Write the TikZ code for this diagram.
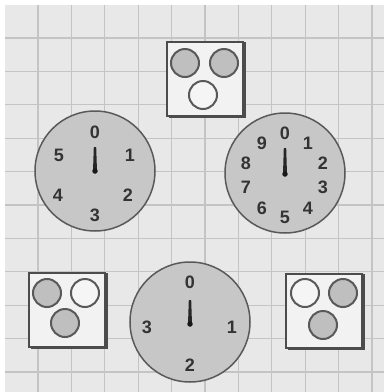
\documentclass[tikz,border=0pt]{standalone}
\usepackage{fontspec}
\setmainfont{Liberation Sans}
\begin{document}
\begin{tikzpicture}[x=1pt,y=-1pt,
  dialface/.style={circle,draw=black!65,line width=1.5pt,fill=black!22,minimum size=120pt,inner sep=0pt},
  digit/.style={font=\fontsize{18}{18}\selectfont\bfseries,text=black!80,inner sep=0pt},
  lamp/.style={circle,draw=black!65,line width=2pt,minimum size=28pt,inner sep=0pt},
  lampon/.style={lamp,fill=black!25},
  lampoff/.style={lamp,fill=black!4},
  panel/.style={draw=black!70,line width=1.6pt,fill=black!5,minimum width=76pt,minimum height=74pt,inner sep=0pt},
  shade/.style={draw=black!70,line width=2.2pt},
  gridline/.style={draw=black!23,line width=1.1pt},
  needle/.style={fill=black!85},
  pivot/.style={circle,fill=black!90,minimum size=5.5pt,inner sep=0pt}]
\useasboundingbox (0,0) rectangle (384,392);
\fill[white] (0,0) rectangle (384,392);
\fill[black!9] (5,5) rectangle (384,392);
\foreach \i in {0,...,10} {
  \draw[gridline] ({38+33.4*\i},5) -- ({38+33.4*\i},392);
  \draw[gridline] (5,{38+33.4*\i}) -- (384,{38+33.4*\i});
}
% top panel
\node[panel] (pt) at (205,79) {};
\draw[shade] (pt.north east) ++(1,1) -- ++(0,75) -- ++(-76,0);
\node[lampon] (pt1) at (185,63) {};
\node[lampon] (pt2) at (224,63) {};
\node[lampoff] (pt3) at (203,95) {};
% bottom-left panel
\node[panel] (pl) at (67,310) {};
\draw[shade] (pl.north east) ++(1,1) -- ++(0,75) -- ++(-76,0);
\node[lampon] (pl1) at (47,293) {};
\node[lampoff] (pl2) at (85,293) {};
\node[lampon] (pl3) at (65,323) {};
% bottom-right panel
\node[panel] (pr) at (324,311) {};
\draw[shade] (pr.north east) ++(1,1) -- ++(0,75) -- ++(-76,0);
\node[lampoff] (pr1) at (305,293) {};
\node[lampon] (pr2) at (343,293) {};
\node[lampon] (pr3) at (323,325) {};
% left dial
\node[dialface] (dl) at (95,171) {};
\fill[needle] (93.8,147) -- (96.2,147) -- (97,171) -- (93,171) -- cycle;
\node[pivot] (dlp) at (95,171) {};
\node[digit] (dl0) at (95,132) {0};
\node[digit] (dl1) at (130,155) {1};
\node[digit] (dl2) at (128,195) {2};
\node[digit] (dl3) at (95,215) {3};
\node[digit] (dl4) at (58,195) {4};
\node[digit] (dl5) at (59,155) {5};
% right dial
\node[dialface] (dr) at (285,173) {};
\fill[needle] (283.8,148) -- (286.2,148) -- (287,174) -- (283,174) -- cycle;
\node[pivot] (drp) at (285,174) {};
\node[digit] (dr0) at (285,133) {0};
\node[digit] (dr1) at (308,143) {1};
\node[digit] (dr2) at (323,163) {2};
\node[digit] (dr3) at (323,187) {3};
\node[digit] (dr4) at (308,208) {4};
\node[digit] (dr5) at (285,217) {5};
\node[digit] (dr6) at (262,208) {6};
\node[digit] (dr7) at (246,187) {7};
\node[digit] (dr8) at (246,163) {8};
\node[digit] (dr9) at (262,143) {9};
% bottom dial
\node[dialface] (db) at (190,322) {};
\fill[needle] (188.8,300) -- (191.2,300) -- (192,324) -- (188,324) -- cycle;
\node[pivot] (dbp) at (190,324) {};
\node[digit] (db0) at (190,282) {0};
\node[digit] (db1) at (232,327) {1};
\node[digit] (db2) at (190,365) {2};
\node[digit] (db3) at (147,327) {3};
\end{tikzpicture}
\end{document}
